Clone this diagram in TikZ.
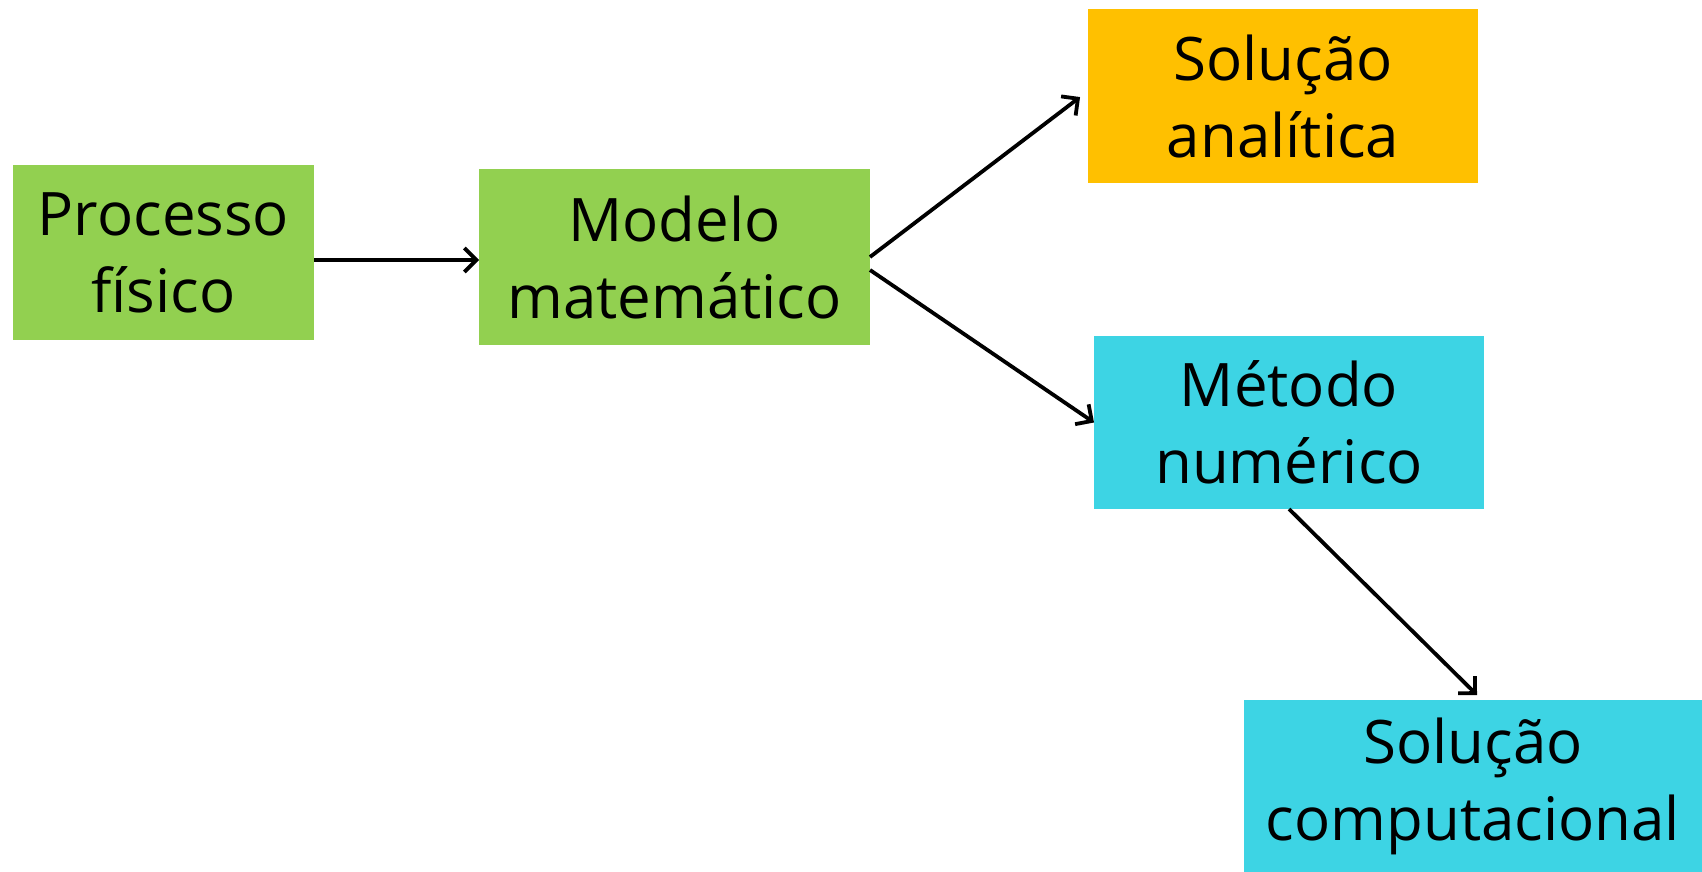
\documentclass[tikz,border=0pt]{standalone}
\usepackage{fontspec}
\setmainfont{Open Sans}
\usetikzlibrary{arrows.meta,calc}
\definecolor{boxgreen}{HTML}{92D050}
\definecolor{boxorange}{HTML}{FFC000}
\definecolor{boxcyan}{HTML}{3DD4E4}
\tikzset{
  box/.style={rectangle, inner sep=0pt, outer sep=0pt, align=center,
    font=\fontsize{30}{38.5}\selectfont, text=black},
  conn/.style={line width=1.9pt, -{Straight Barb[length=6pt,width=12pt,line width=1.9pt]}}
}
\begin{document}
\begin{tikzpicture}[x=0.5pt,y=-0.5pt]
\useasboundingbox (0,0) rectangle (1702,872);
\node[box, fill=boxgreen, minimum width=150.5pt, minimum height=87.5pt] (p) at (163.5,252.5) {Processo\\físico};
\node[box, fill=boxgreen, minimum width=195.5pt, minimum height=88pt] (m) at (674.5,257) {Modelo\\matemático};
\node[box, fill=boxorange, minimum width=195pt, minimum height=87pt] (a) at (1283,96) {Solução\\analítica};
\node[box, fill=boxcyan, minimum width=195pt, minimum height=86.5pt] (n) at (1289,422.5) {Método\\numérico};
\node[box, fill=boxcyan, minimum width=229pt, minimum height=86pt] (c) at (1473,786) {Solução\\computacional};
\draw[conn] ($(m.west -| p.east)+(0,3)$) -- ($(m.west)+(0,3)$);
\draw[conn, shorten >=5pt] (m.east) -- ($(a.west)+(0,-5)$);
\draw[conn] ($(m.east)+(0,13)$) -- (n.west);
\draw[conn] (n.south) -- ($(c.north)+(4,-5)$);
\end{tikzpicture}
\end{document}
